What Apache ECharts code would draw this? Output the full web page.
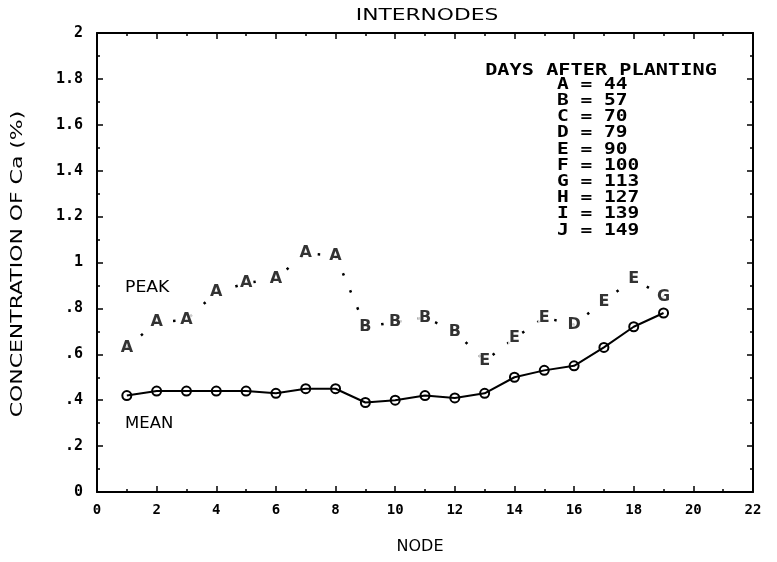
<!DOCTYPE html>
<html>
<head>
<meta charset="utf-8">
<title>INTERNODES</title>
<script src="https://cdn.jsdelivr.net/npm/echarts@6/dist/echarts.min.js"></script>
<style>
  html, body { margin: 0; padding: 0; background: #fff; }
  #chart { width: 777px; height: 562px; }
</style>
</head>
<body>
<div id="chart"></div>
<script>
// Node positions along the stem
const nodes = [1, 2, 3, 4, 5, 6, 7, 8, 9, 10, 11, 12, 13, 14, 15, 16, 17, 18, 19];
// Mean Ca concentration (%) per node
const meanCa = [0.42, 0.44, 0.44, 0.44, 0.44, 0.43, 0.45, 0.45, 0.39, 0.40,
                0.42, 0.41, 0.43, 0.50, 0.53, 0.55, 0.63, 0.72, 0.78];
// Peak Ca concentration (%) per node
const peakCa = [0.63, 0.74, 0.75, 0.87, 0.91, 0.93, 1.04, 1.03, 0.72, 0.74,
                0.76, 0.70, 0.57, 0.67, 0.76, 0.73, 0.83, 0.93, 0.85];
// Sampling date code at which each peak occurred
const peakCode = ['A', 'A', 'A', 'A', 'A', 'A', 'A', 'A', 'B', 'B',
                  'B', 'B', 'E', 'E', 'E', 'D', 'E', 'E', 'G'];
// Key: sampling code -> days after planting
const keyCodes = ['A', 'B', 'C', 'D', 'E', 'F', 'G', 'H', 'I', 'J'];
const keyDays = [44, 57, 70, 79, 90, 100, 113, 127, 139, 149];
// Tick labels
const xTickLabels = ['0', '2', '4', '6', '8', '10', '12', '14', '16', '18', '20', '22'];
const yTickLabels = ['0', '.2', '.4', '.6', '.8', '1', '1.2', '1.4', '1.6', '1.8', '2'];

const MONO = 'DejaVu Sans Mono';
const SANS = 'DejaVu Sans';

const chart = echarts.init(document.getElementById('chart'), null, { renderer: 'canvas' });

function frameAxis(extra) {
  return Object.assign({
    axisLine: { show: true, onZero: false, lineStyle: { color: '#000', width: 2 } },
    axisTick: { show: true, inside: true, length: 6, lineStyle: { color: '#000', width: 1.5 } },
    minorTick: { show: true, splitNumber: 2, length: 3, lineStyle: { color: '#000', width: 1.5 } },
    splitLine: { show: false },
    minorSplitLine: { show: false }
  }, extra);
}

// Key text block
const keyGraphics = [{
  type: 'text', x: 601, y: 71, scaleX: 1.35,
  style: { text: 'DAYS AFTER PLANTING', fontFamily: MONO, fontWeight: 'bold', fontSize: 15,
           fill: '#000', align: 'center', verticalAlign: 'middle' }
}];
keyCodes.forEach((c, i) => {
  keyGraphics.push({
    type: 'text', x: 557, y: 85 + i * 16.2, scaleX: 1.3,
    style: { text: c + ' = ' + keyDays[i], fontFamily: MONO, fontWeight: 'bold', fontSize: 15,
             fill: '#000', align: 'left', verticalAlign: 'middle' }
  });
});

const option = {
  backgroundColor: '#fff',
  animation: false,
  grid: { left: 97, right: 24, top: 33, bottom: 70, containLabel: false },
  xAxis: [
    frameAxis({
      type: 'value', min: 0, max: 22, interval: 2, position: 'bottom',
      axisLabel: {
        show: true, margin: 11, color: '#000', fontFamily: MONO, fontWeight: 'bold', fontSize: 14,
        formatter: v => xTickLabels[Math.round(v / 2)]
      }
    }),
    frameAxis({
      type: 'value', min: 0, max: 22, interval: 2, position: 'top',
      axisLabel: { show: false }
    })
  ],
  yAxis: [
    frameAxis({
      type: 'value', min: 0, max: 2, interval: 0.2, position: 'left',
      axisLabel: {
        show: true, margin: 14, color: '#000', fontFamily: MONO, fontWeight: 'bold', fontSize: 15,
        formatter: v => yTickLabels[Math.round(v / 0.2)]
      }
    }),
    frameAxis({
      type: 'value', min: 0, max: 2, interval: 0.2, position: 'right',
      axisLabel: { show: false }
    })
  ],
  graphic: [
    {
      type: 'text', x: 427, y: 16, scaleX: 1.36,
      style: { text: 'INTERNODES', fontFamily: SANS, fontSize: 16, fill: '#000',
               align: 'center', verticalAlign: 'middle' }
    },
    {
      type: 'text', x: 420, y: 547,
      style: { text: 'NODE', fontFamily: SANS, fontSize: 16, fill: '#000',
               align: 'center', verticalAlign: 'middle' }
    },
    {
      type: 'text', x: 18, y: 264, rotation: Math.PI / 2, scaleX: 1.37,
      style: { text: 'CONCENTRATION OF Ca (%)', fontFamily: SANS, fontSize: 16, fill: '#000',
               align: 'center', verticalAlign: 'middle' }
    },
    {
      type: 'text', x: 125, y: 288, scaleX: 1.15,
      style: { text: 'PEAK', fontFamily: SANS, fontSize: 15, fill: '#000',
               align: 'left', verticalAlign: 'middle' }
    },
    {
      type: 'text', x: 125, y: 424, scaleX: 1.1,
      style: { text: 'MEAN', fontFamily: SANS, fontSize: 15, fill: '#000',
               align: 'left', verticalAlign: 'middle' }
    }
  ].concat(keyGraphics),
  series: [
    {
      name: 'PEAK',
      type: 'line',
      data: nodes.map((n, i) => [n, peakCa[i]]),
      showSymbol: false,
      symbol: 'none',
      z: 2,
      lineStyle: { color: '#000', width: 2.5, type: [2.5, 16], cap: 'butt' }
    },
    {
      name: 'PEAK code',
      type: 'scatter',
      data: nodes.map((n, i) => [n, peakCa[i]]),
      symbolSize: 1,
      itemStyle: { color: 'rgba(0,0,0,0)' },
      z: 3,
      label: {
        show: true, position: 'inside',
        formatter: p => peakCode[p.dataIndex],
        color: '#000', fontFamily: SANS, fontWeight: 'bold', fontSize: 16,
        backgroundColor: '#fff', padding: [0, 1]
      }
    },
    {
      name: 'MEAN',
      type: 'line',
      data: nodes.map((n, i) => [n, meanCa[i]]),
      symbol: 'circle',
      symbolSize: 9,
      z: 4,
      lineStyle: { color: '#000', width: 2 },
      itemStyle: { color: 'rgba(0,0,0,0)', borderColor: '#000', borderWidth: 2 }
    }
  ]
};

chart.setOption(option);
</script>
</body>
</html>
